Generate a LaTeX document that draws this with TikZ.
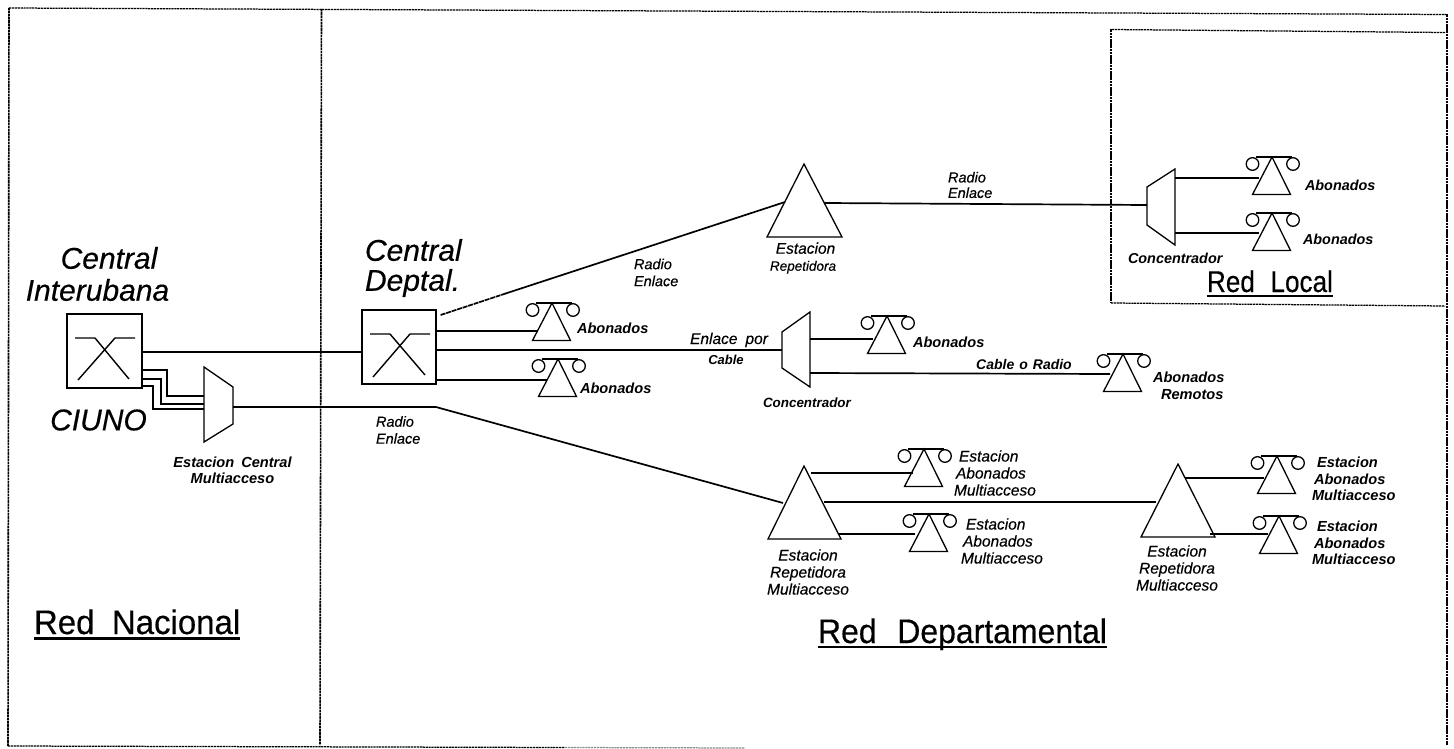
\documentclass[tikz,border=0pt]{standalone}
\usepackage{fontspec}
\usepackage{graphicx}
\setmainfont{Liberation Sans}
\newcommand{\heavy}{\addfontfeatures{FakeBold=0.35}}
\tikzset{
  framev/.style={line width=1.6pt,dash pattern=on 2.6pt off 0.6pt},
  frameh/.style={line width=1.25pt,dash pattern=on 2.2pt off 0.7pt},
  link/.style={line width=1.4pt},
  linkb/.style={line width=1.7pt},
  shapeline/.style={line width=1.3pt,line join=miter},
  swbox/.style={draw,line width=1.3pt,minimum width=#1,minimum height=74pt,inner sep=0pt},
  txt/.style={inner sep=0pt,outer sep=0pt,align=left},
  ctxt/.style={inner sep=0pt,outer sep=0pt,align=center},
  big/.style={font=\fontsize{30}{30}\selectfont\itshape\heavy},
  small/.style={font=\fontsize{15.5}{17}\selectfont\itshape\heavy},
  smallb/.style={font=\fontsize{14.6}{16.5}\selectfont\bfseries\itshape},
  tiny/.style={font=\fontsize{14.5}{15.5}\selectfont\itshape\heavy},
  tinyb/.style={font=\fontsize{14.4}{15}\selectfont\bfseries\itshape},
  title/.style={inner sep=0pt,outer sep=0pt,anchor=base west},
}
% phone set: apex at (#1,#2)
\newcommand{\phoneset}[2]{%
  \begin{scope}[shift={(#1,#2)}]
    \draw[shapeline] (0,0) -- (18.5,37.5) -- (-19.5,37.5) -- cycle;
    \draw[link] (-16,0) -- (20,0);
    \draw[line width=1.3pt] (-19.5,7) circle (6.3pt);
    \draw[line width=1.3pt] (21,7) circle (6.3pt);
  \end{scope}}
\newcommand{\repeater}[4]{% apex x, apex y, base half-widths left, right
  \draw[shapeline] (#1,#2) -- ({#1+#4},{#2+73}) -- ({#1-#3},{#2+73}) -- cycle;}
\newcommand{\muxshape}[6]{% left x, left top, left bottom, right x, right top, right bottom
  \draw[shapeline] (#1,#2) -- (#4,#5) -- (#4,#6) -- (#1,#3) -- cycle;}
\begin{document}
\begin{tikzpicture}[x=1pt,y=-1pt]
\useasboundingbox (0,0) rectangle (1454,749);
\fill[white] (0,0) rectangle (1454,749);

% frames
\draw[framev] (8,746) -- (9,8);
\draw[frameh] (9,8) -- (1447,14.5);
\draw[framev] (1447,14.5) -- (1447,745);
\draw[frameh] (8,746) -- (565,747.5);
\draw[frameh,black!45] (565,747.5) -- (745,748);
\draw[framev] (321.5,9) -- (320,745);
\draw[frameh] (1445,32.5) -- (1111,29.5);
\draw[framev,line width=1.3pt] (1111,29.5) -- (1111,303);
\draw[frameh] (1111,303) -- (1445,306);

% switching centres
\node[swbox=75pt] (ci) at (104.5,351) {};
\draw[link] (75,338) -- (95,338) -- (129,379);
\draw[link] (135,338) -- (115,338) -- (78,380);
\node[swbox=74pt] (cd) at (399,347) {};
\draw[link] (370,334) -- (390,334) -- (425,375);
\draw[link] (430,334) -- (410,334) -- (373,377);

% multiplexer shapes and their ports
\muxshape{204}{367}{442}{233}{387}{424}
\coordinate (mcA) at (204,396);
\coordinate (mcB) at (204,404);
\coordinate (mcC) at (204,409);
\coordinate (mcO) at (233,407);
\muxshape{782}{332}{368}{810}{312}{387}
\coordinate (c2I) at (782,350);
\coordinate (c2A) at (810,339);
\coordinate (c2B) at (810,373);
\muxshape{1147}{187}{225}{1175}{169}{245}
\coordinate (c1I) at (1147,205);
\coordinate (c1A) at (1175,178);
\coordinate (c1B) at (1175,233);

% repeaters and their ports
\repeater{804}{164}{37}{38}
\coordinate (r0L) at (785,202);
\coordinate (r0R) at (825,203);
\repeater{804}{466}{36}{37}
\coordinate (r1L) at (783,503);
\coordinate (r1R) at (824,502);
\coordinate (r1A) at (811,473);
\coordinate (r1B) at (838,534);
\repeater{1178}{464}{37}{37}
\coordinate (r2L) at (1156,502);
\coordinate (r2A) at (1185,478);
\coordinate (r2B) at (1210,534);

% phone sets
\phoneset{552}{303}
\phoneset{558}{359}
\phoneset{887}{316}
\phoneset{1123}{354}
\phoneset{1272}{157}
\phoneset{1272}{213}
\phoneset{924}{449}
\phoneset{929}{514}
\phoneset{1277}{456}
\phoneset{1279}{516}
\coordinate (pA) at (537,331);
\coordinate (pB) at (547,380);
\coordinate (pC) at (873,339);
\coordinate (pD) at (1110,374);
\coordinate (pE) at (1259,178);
\coordinate (pF) at (1259,233);
\coordinate (pG) at (913,473);
\coordinate (pH) at (915,534);
\coordinate (pI) at (1264,478);
\coordinate (pJ) at (1268,534);

% connectors
\draw[link] (ci.east |- 0,352) -- (cd.west |- 0,352);
\draw[link] (ci.east |- 0,370) -| (167,396) -- (mcA);
\draw[link] (ci.east |- 0,379) -| (161,404) -- (mcB);
\draw[link] (ci.east |- 0,386) -| (153,409) -- (mcC);
\coordinate (bendO) at (436,407);
\draw[linkb] (mcO) -- (bendO) -- (r1L);
\coordinate (r0mid) at (505,293.7);
\draw[linkb,dash pattern=on 5pt off 0.8pt] (cd.east |- 0,315) ++(4,0) -- (r0mid);
\draw[linkb] (r0mid) -- (r0L);
\draw[linkb] (r0R) -- (c1I);
\draw[link] (cd.east |- 0,331) -- (pA);
\draw[link] (cd.east |- 0,350) -- (c2I);
\draw[link] (cd.east |- 0,380) -- (pB);
\draw[link] (c2A) -- (pC);
\draw[linkb] (c2B) -- (pD);
\draw[link] (c1A) -- (pE);
\draw[link] (c1B) -- (pF);
\draw[link] (r1A) -- (pG);
\draw[link] (r1B) -- (pH);
\draw[link] (r1R) -- (r2L);
\draw[link] (r2A) -- (pI);
\draw[link] (r2B) -- (pJ);

% large labels
\node[ctxt,big] (tCen) at (109,258) {Central};
\node[ctxt,big] (tInt) at (97.5,290) {Interubana};
\node[ctxt,big] (tCiu) at (98.5,420) {CIUNO};
\node[txt,big,anchor=west] (tCD) at (365,268) {Central\\[0pt]Deptal.};

% titles
\node[title,font=\fontsize{34}{34}\selectfont\heavy] (tRN) at (34,634) {\scalebox{.97}[1]{Red\hspace{18pt}Nacional}};
\draw[line width=2.2pt] ([yshift=-4.5pt]tRN.base west) -- ([yshift=-4.5pt]tRN.base east);
\node[title,font=\fontsize{34}{34}\selectfont\heavy] (tRD) at (818,643) {\scalebox{.94}[1]{Red\hspace{22pt}Departamental}};
\draw[line width=2pt] ([yshift=-3.5pt]tRD.base west) -- ([yshift=-3.5pt]tRD.base east);
\node[title,font=\fontsize{30}{30}\selectfont\heavy] (tRL) at (1207,292) {\scalebox{.87}[1]{Red\hspace{18pt}Local}};
\draw[line width=2pt] ([yshift=-3.5pt]tRL.base west) -- ([yshift=-3.5pt]tRL.base east);

% small labels
\node[ctxt,smallb] (lEC) at (232.5,470.5) {Estacion\hspace{7pt}Central\\Multiacceso};
\node[txt,tiny,anchor=west] (lR1) at (376,430) {Radio\\[1.5pt]Enlace};
\node[txt,tiny,anchor=west] (lR2) at (634,272.5) {Radio\\[1.5pt]Enlace};
\node[txt,tiny,anchor=west] (lR3) at (948,185) {Radio\\Enlace};
\node[ctxt,font=\fontsize{13.5}{17}\selectfont\itshape\heavy] (lEr) at (803,258) {\hspace*{5pt}{\fontsize{15.5}{17}\selectfont Estacion}\\Repetidora};
\node[txt,smallb,anchor=west] (lAb1) at (577,328) {Abonados};
\node[txt,smallb,anchor=west] (lAb2) at (580,388) {Abonados};
\node[txt,smallb,anchor=west] (lAb3) at (913,342) {Abonados};
\node[txt,smallb,anchor=west] (lAb4) at (1153,386) {Abonados\\[0.5pt]\hspace*{8pt}Remotos};
\node[txt,tinyb,anchor=west] (lAb5) at (1305,185) {Abonados};
\node[txt,tinyb,anchor=west] (lAb6) at (1303,239) {Abonados};
\node[txt,tinyb,anchor=west] (lCo1) at (1128,258) {Concentrador};
\node[txt,font=\fontsize{13.4}{15}\selectfont\bfseries\itshape,anchor=west] (lCo2) at (763,403) {Concentrador};
\node[ctxt,small] (lEP) at (729,340) {Enlace\hspace{8pt}por};
\node[ctxt,font=\fontsize{13}{15}\selectfont\bfseries\itshape] (lCa) at (726,360) {Cable};
\node[ctxt,font=\fontsize{14}{15}\selectfont\bfseries\itshape] (lCR) at (1024,364) {Cable\hspace{5pt}o\hspace{5pt}Radio};
\node[ctxt,small] (lM1) at (808,572) {Estacion\\Repetidora\\Multiacceso};
\node[ctxt,small] (lM2) at (1177,568) {Estacion\\Repetidora\\Multiacceso};
\node[txt,small,anchor=west] (lS1) at (954,473) {\hspace*{5pt}Estacion\\\hspace*{2pt}Abonados\\Multiacceso};
\node[txt,small,anchor=west] (lS2) at (961,541) {\hspace*{5pt}Estacion\\\hspace*{2pt}Abonados\\Multiacceso};
\node[txt,smallb,anchor=west] (lS3) at (1312,479) {\hspace*{5pt}Estacion\\\hspace*{2pt}Abonados\\Multiacceso};
\node[txt,smallb,anchor=west] (lS4) at (1312,543) {\hspace*{5pt}Estacion\\\hspace*{2pt}Abonados\\Multiacceso};
\end{tikzpicture}
\end{document}
